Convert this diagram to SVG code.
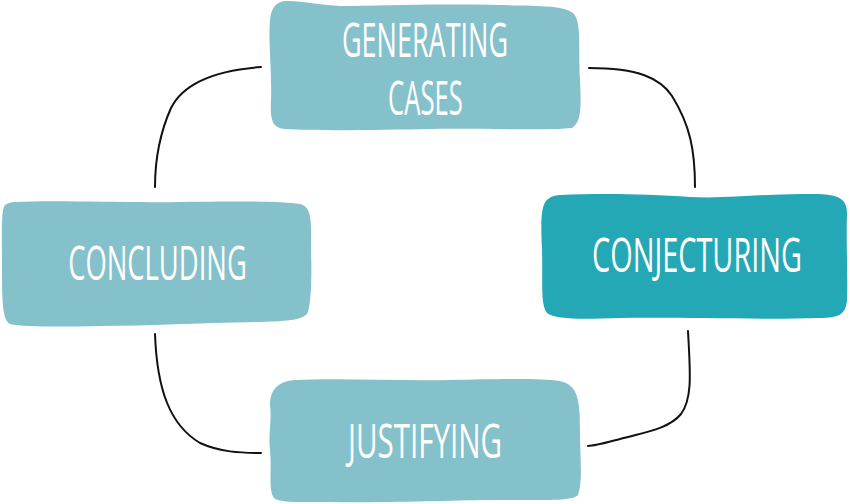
<svg xmlns="http://www.w3.org/2000/svg" width="850" height="504" viewBox="0 0 850 504">
<style>
.light{fill:#85C1CB}
.dark{fill:#25A8B6}
.lbl{font-family:"Open Sans","DejaVu Sans","Liberation Sans",sans-serif;font-weight:400;font-size:48px;fill:#FFFFFF;text-anchor:middle}
.conn{fill:none;stroke:#111111;stroke-width:2;stroke-linecap:round}
</style>
<rect width="850" height="504" fill="#FFFFFF"/>
<g id="connectors">
<path class="conn" d="M261,67 C208,71 182,86 171,108 C159,135 155,160 155,187"/>
<path class="conn" d="M589,68 C638,68 660,78 672,96 C690,125 695,150 695,187"/>
<path class="conn" d="M688,331 C690,370 693,398 681,414 C668,430 640,433 620,439 C605,443 595,446 588,446"/>
<path class="conn" d="M155,334 C157,390 170,425 200,443 C220,452 240,453 261,453"/>
</g>
<g id="node-generating">
<path class="light" d="M285,1 C300,0 320,6 350,6 C400,5 450,4 500,5 C540,6 565,5 574,14 C582,24 578,50 580,80 C581,105 582,122 572,128 C540,131 480,128 430,129 C380,130 320,131 285,129 C272,128 270,120 271,100 C272,70 268,40 270,20 C271,8 276,2 285,1 Z"/>
<text class="lbl" transform="translate(425,57) scale(0.55,1)" x="0" y="0" textLength="302" lengthAdjust="spacingAndGlyphs">GENERATING</text>
<text class="lbl" transform="translate(425.5,115) scale(0.55,1)" x="0" y="0" textLength="136" lengthAdjust="spacingAndGlyphs">CASES</text>
</g>
<g id="node-conjecturing">
<path class="dark" d="M560,195 C600,193 650,194 690,197 C730,199 770,193 810,194 C835,194 848,196 847,215 C846,240 848,280 847,300 C846,315 838,318 820,318 C760,320 680,317 620,318 C585,319 555,320 547,313 C540,305 543,280 542,250 C541,225 540,205 548,199 C552,196 556,195 560,195 Z"/>
<text class="lbl" transform="translate(697,272) scale(0.55,1)" x="0" y="0" textLength="382" lengthAdjust="spacingAndGlyphs">CONJECTURING</text>
</g>
<g id="node-concluding">
<path class="light" d="M15,202 C60,200 120,203 180,202 C230,201 280,201 300,204 C313,207 311,225 311,250 C312,280 311,300 308,312 C304,320 290,321 260,322 C200,323 150,326 100,326 C60,327 25,327 10,324 C2,320 2,300 2,260 C2,230 1,210 5,205 C8,203 11,202 15,202 Z"/>
<text class="lbl" transform="translate(157.5,280) scale(0.55,1)" x="0" y="0" textLength="325" lengthAdjust="spacingAndGlyphs">CONCLUDING</text>
</g>
<g id="node-justifying">
<path class="light" d="M295,380 C340,378 400,381 450,380 C500,379 540,378 560,381 C578,385 580,400 580,430 C580,460 583,480 578,495 C572,501 550,500 500,500 C450,500 400,503 330,502 C300,502 280,503 274,498 C268,490 272,470 270,450 C268,435 272,420 270,405 C270,390 278,381 295,380 Z"/>
<text class="lbl" transform="translate(425,458) scale(0.55,1)" x="0" y="0" textLength="280" lengthAdjust="spacingAndGlyphs">JUSTIFYING</text>
</g>
</svg>
